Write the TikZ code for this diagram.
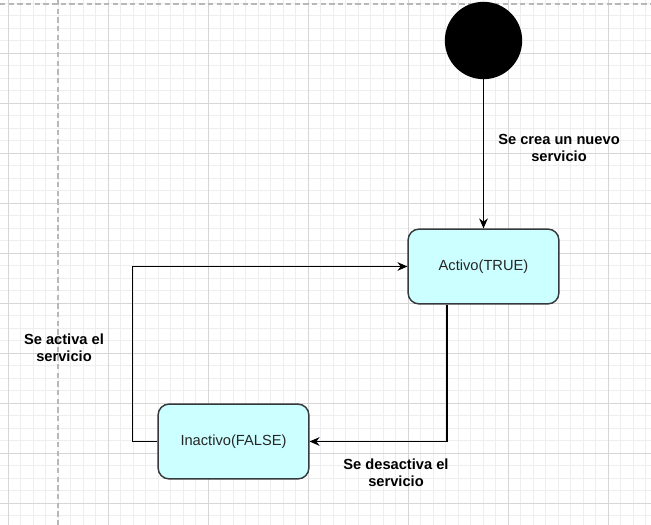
\documentclass[tikz,border=0pt]{standalone}
\usepackage{fontspec}
\setmainfont{Liberation Sans}
\usetikzlibrary{arrows.meta}
\definecolor{gridminor}{HTML}{EEEEEE}
\definecolor{gridmajor}{HTML}{D6D6D6}
\definecolor{gridpage}{HTML}{B8B8B8}
\definecolor{statefill}{HTML}{CCFFFF}
\definecolor{stateline}{HTML}{36393D}
\tikzset{
  state/.style={draw=stateline,line width=1.1pt,fill=statefill,rounded corners=8pt,
    minimum width=113pt,minimum height=56pt,font=\fontsize{11}{13}\selectfont,text=black!85},
  initial/.style={circle,fill=black,inner sep=0pt,minimum size=58pt},
  edge/.style={line width=1.05pt,-{Stealth[length=7.5pt,width=6.5pt]}},
  edgelabel/.style={align=center,font=\fontsize{11}{13.1}\selectfont\bfseries}
}
\begin{document}
\begin{tikzpicture}[x=0.75pt,y=-0.75pt]
\useasboundingbox (0,0) rectangle (651,525);
\fill[white] (0,0) rectangle (651,525);
\foreach \x in {8,20.5,...,650} \draw[gridminor,line width=0.5pt] (\x,0)--(\x,525);
\foreach \y in {3.3,15.8,...,525} \draw[gridminor,line width=0.5pt] (0,\y)--(651,\y);
\foreach \x in {8,108,...,650} \draw[gridmajor,line width=0.75pt] (\x,0)--(\x,525);
\foreach \y in {53.3,103.3,...,525} \draw[gridmajor,line width=0.75pt] (0,\y)--(651,\y);
\draw[gridpage,line width=1pt,dash pattern=on 4pt off 2.5pt] (58,0)--(58,525);
\draw[gridpage,line width=1pt,dash pattern=on 4pt off 2.5pt] (0,4)--(651,4);

\node[initial] (start) at (483.5,40.5) {};
\node[state] (activo) at (483.5,266.5) {Activo(TRUE)};
\node[state] (inactivo) at (233.5,441.5) {Inactivo(FALSE)};

\draw[edge] (start) -- (activo);
\draw[edge] ([xshift=-27.5pt]activo.south) |- (inactivo);
\draw[edge] (inactivo.west) -- ++(-24.7,0) |- (activo.west);

\node[edgelabel] (crea) at (559,148) {Se crea un nuevo\\servicio};
\node[edgelabel] (activa) at (64,348) {Se activa el\\servicio};
\node[edgelabel] (desactiva) at (396,473) {Se desactiva el\\servicio};
\end{tikzpicture}
\end{document}
